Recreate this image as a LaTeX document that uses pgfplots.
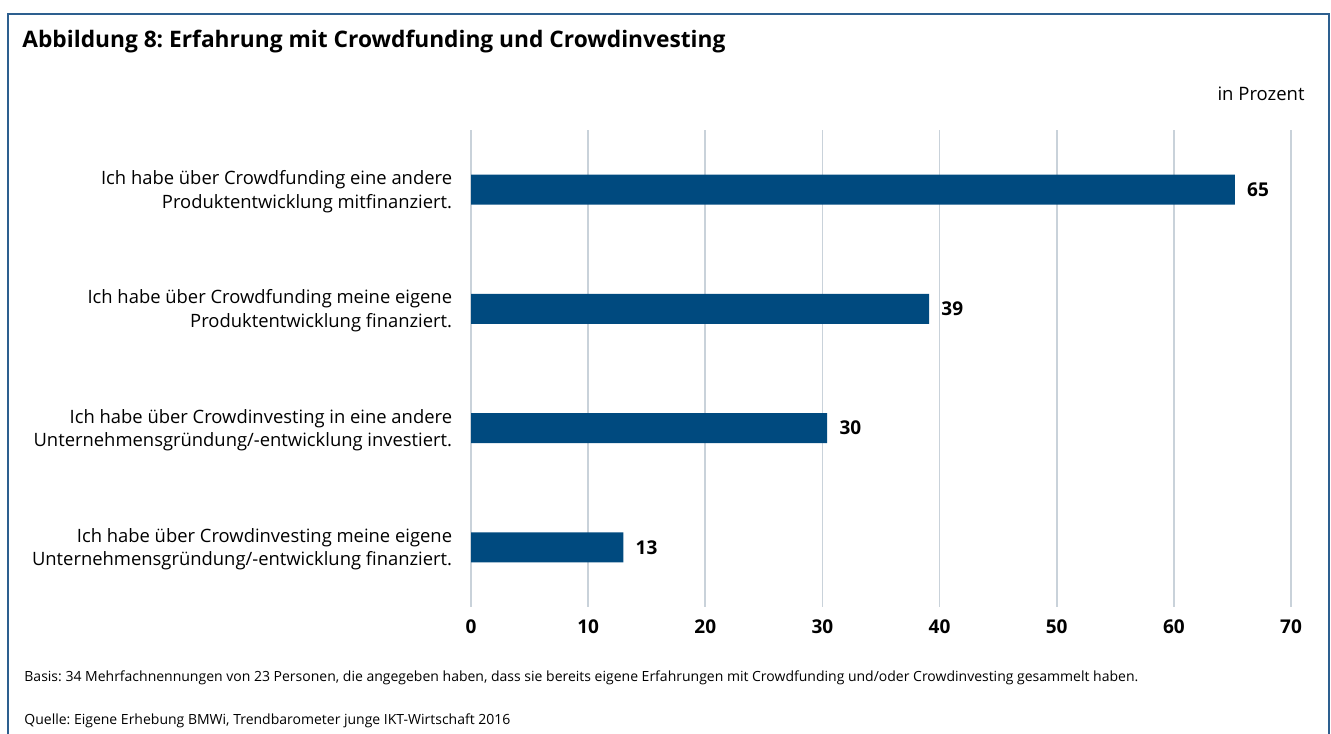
\documentclass[border=0pt]{standalone}
\usepackage{fontspec}
\setmainfont{Open Sans}
\usepackage{pgfplots}
\pgfplotsset{compat=1.18}
\definecolor{barblue}{HTML}{004A7F}
\definecolor{frameblue}{HTML}{2D5F8F}
\definecolor{gridc}{HTML}{C9D2DA}
\frenchspacing
\begin{document}
\begin{tikzpicture}[x=0.5pt,y=-0.5pt]
\useasboundingbox (0,0) rectangle (1331,733);
\draw[frameblue, line width=1pt] (8,740) -- (8,14) -- (1329,14) -- (1329,740);
\node[anchor=base west, font=\bfseries\fontsize{11.37}{14}\selectfont, inner sep=0pt] at (22,48) {Abbildung 8: Erfahrung mit Crowdfunding und Crowdinvesting};
\node[anchor=base east, font=\fontsize{9.25}{11}\selectfont, inner sep=0pt] at (1305,100) {in Prozent};
\node[anchor=base west, font=\fontsize{7}{8}\selectfont, inner sep=0pt] at (24,681) {Basis: 34 Mehrfachnennungen von 23 Personen, die angegeben haben, dass sie bereits eigene Erfahrungen mit Crowdfunding und/oder Crowdinvesting gesammelt haben.};
\node[anchor=base west, font=\fontsize{7}{8}\selectfont, inner sep=0pt] at (24,724) {Quelle: Eigene Erhebung BMWi, Trendbarometer junge IKT-Wirtschaft 2016};
\begin{axis}[
  at={(235.5pt,-303.5pt)}, anchor=south west,
  width=410pt, height=238.5pt, scale only axis,
  xmin=0, xmax=70, ymin=-0.5, ymax=3.5, y dir=reverse,
  xbar, bar width=15pt,
  xtick={0,10,...,70},
  ytick={0,1,2,3},
  yticklabels={{Ich habe über Crowdfunding eine andere\\Produktentwicklung mitfinanziert.},
               {Ich habe über Crowdfunding meine eigene\\Produktentwicklung finanziert.},
               {Ich habe über Crowdinvesting in eine andere\\Unternehmensgründung/-entwicklung investiert.},
               {Ich habe über Crowdinvesting meine eigene\\Unternehmensgründung/-entwicklung finanziert.}},
  yticklabel style={align=right, font=\fontsize{9.2}{11.8}\selectfont, inner sep=0pt, xshift=-5pt, yshift=-1pt},
  xticklabel style={font=\bfseries\fontsize{9.5}{11}\selectfont, inner sep=0pt, yshift=-6pt},
  /pgf/number format/assume math mode=true,
  tick style={draw=none},
  axis line style={draw=none},
  xmajorgrids, grid style={gridc, line width=0.8pt},
  clip=false,
  nodes near coords,
  point meta=x,
  nodes near coords style={font=\bfseries\fontsize{9.5}{11}\selectfont, inner sep=0pt, anchor=west, xshift=6pt, /pgf/number format/fixed, /pgf/number format/precision=0},
]
\addplot[fill=barblue, draw=none] coordinates {(65.2,0) (39.1,1) (30.4,2) (13.0,3)};
\end{axis}
\end{tikzpicture}
\end{document}
